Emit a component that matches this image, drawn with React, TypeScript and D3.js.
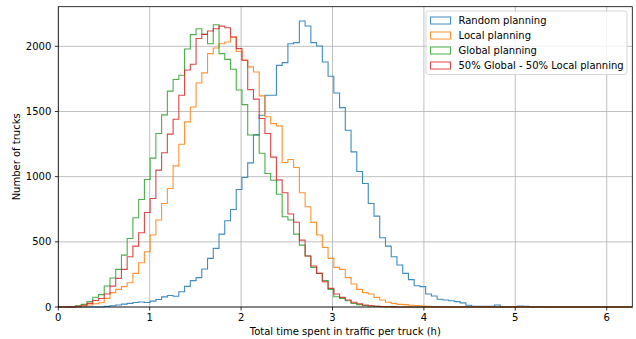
import React from 'react';
import * as d3 from 'd3';

const BIN_COUNT = 100;
const X_MAX = 6.28;
const Y_MAX = 2304;

const seriesNames = ['Random planning', 'Local planning', 'Global planning', '50% Global - 50% Local planning'];
const seriesColors = ['#1f77b4', '#ff7f0e', '#2ca02c', '#d62728'];

const randomPlanning = [0, 0, 0, 0, 0, 0, 0, 0, 5, 10, 15, 22, 28, 35, 38, 35, 45, 58, 78, 88, 82, 117, 158, 202, 225, 291, 373, 450, 559, 662, 748, 902, 994, 1106, 1318, 1471, 1625, 1625, 1854, 1875, 2020, 2028, 2194, 2156, 2028, 2003, 1880, 1770, 1642, 1530, 1356, 1190, 1040, 948, 794, 697, 531, 467, 386, 322, 258, 210, 163, 156, 100, 84, 59, 54, 48, 41, 32, 14, 6, 5, 5, 6, 15, 3, 2, 2, 8, 5, 1, 2, 2];
const localPlanning = [0, 0, 0, 2, 8, 15, 25, 33, 66, 110, 135, 156, 186, 258, 340, 424, 552, 667, 794, 909, 1083, 1249, 1420, 1535, 1719, 1796, 1944, 1987, 2020, 2033, 2072, 1960, 1893, 1842, 1803, 1620, 1460, 1407, 1390, 1109, 1132, 1070, 876, 769, 649, 552, 457, 373, 304, 289, 225, 176, 135, 110, 100, 74, 54, 36, 28, 20, 18, 14, 12, 8, 5, 3, 2];
const globalPlanning = [0, 0, 2, 10, 20, 41, 75, 95, 161, 222, 289, 398, 526, 685, 825, 978, 1142, 1331, 1474, 1656, 1745, 1778, 1980, 2090, 2135, 2092, 2020, 2166, 1944, 1900, 1824, 1665, 1553, 1320, 1323, 1180, 1024, 973, 865, 692, 667, 559, 475, 391, 304, 258, 202, 135, 79, 66, 48, 28, 18, 12, 8, 5, 3, 2, 1];
const mixedPlanning = [0, 0, 1, 5, 13, 28, 50, 65, 100, 160, 220, 289, 386, 467, 570, 725, 833, 1050, 1183, 1326, 1441, 1625, 1818, 1862, 2060, 2092, 2118, 2135, 2155, 2143, 2072, 1982, 1893, 1668, 1595, 1446, 1331, 1150, 975, 876, 713, 650, 513, 391, 315, 258, 194, 143, 100, 74, 54, 36, 25, 15, 10, 6, 4, 2, 1];

const xTicks = [0, 1, 2, 3, 4, 5, 6];
const yTicks = [0, 500, 1000, 1500, 2000];

const W = 636;
const H = 339;
const M = { left: 58.3, right: 632.3, top: 6.7, bottom: 307 };
const FONT = 'DejaVu Sans, sans-serif';

function padBins(arr: number[]): number[] {
  const out = arr.slice();
  while (out.length < BIN_COUNT) out.push(0);
  return out;
}

export default function App() {
  const x = d3.scaleLinear().domain([0, X_MAX]).range([M.left, M.right]);
  const y = d3.scaleLinear().domain([0, Y_MAX]).range([M.bottom, M.top]);
  const binW = X_MAX / BIN_COUNT;
  const allSeries = [randomPlanning, localPlanning, globalPlanning, mixedPlanning].map(padBins);

  const line = d3.line<[number, number]>().x(d => x(d[0])).y(d => y(d[1]));
  const stepPath = (counts: number[]) => {
    const pts: [number, number][] = [[0, 0]];
    counts.forEach((c, i) => {
      pts.push([i * binW, c]);
      pts.push([(i + 1) * binW, c]);
    });
    pts.push([BIN_COUNT * binW, 0]);
    return line(pts) || '';
  };

  const legendX = 426;
  const legendY = 11;
  const legendW = 201;
  const legendH = 63.5;

  return (
    <svg width={W} height={H} style={{ position: 'absolute', left: 0, top: 0, background: '#fff' }} fontFamily={FONT}>
      <rect x={0} y={0} width={W} height={H} fill="#fff" />
      {/* grid */}
      <g stroke="#b0b0b0" strokeWidth={0.8}>
        {xTicks.map(t => (
          <line key={'gx' + t} x1={x(t)} x2={x(t)} y1={M.top} y2={M.bottom} />
        ))}
        {yTicks.map(t => (
          <line key={'gy' + t} x1={M.left} x2={M.right} y1={y(t)} y2={y(t)} />
        ))}
      </g>
      {/* series */}
      <g fill="none" strokeWidth={1.1} strokeOpacity={0.85}>
        {allSeries.map((s, i) => (
          <path key={i} d={stepPath(s)} stroke={seriesColors[i]} strokeLinejoin="miter" />
        ))}
      </g>
      {/* frame */}
      <rect x={M.left} y={M.top} width={M.right - M.left} height={M.bottom - M.top} fill="none" stroke="#000" strokeWidth={0.8} />
      {/* x ticks */}
      <g fontSize={10} fill="#000">
        {xTicks.map(t => (
          <g key={'xt' + t}>
            <line x1={x(t)} x2={x(t)} y1={M.bottom} y2={M.bottom + 3.5} stroke="#000" strokeWidth={0.8} />
            <text x={x(t)} y={M.bottom + 7} textAnchor="middle" dominantBaseline="hanging">{t}</text>
          </g>
        ))}
        {yTicks.map(t => (
          <g key={'yt' + t}>
            <line x1={M.left - 3.5} x2={M.left} y1={y(t)} y2={y(t)} stroke="#000" strokeWidth={0.8} />
            <text x={M.left - 7} y={y(t)} textAnchor="end" dominantBaseline="central">{t}</text>
          </g>
        ))}
        <text x={(M.left + M.right) / 2} y={331} textAnchor="middle" dominantBaseline="central">
          Total time spent in traffic per truck (h)
        </text>
        <text transform={`translate(16, ${(M.top + M.bottom) / 2}) rotate(-90)`} textAnchor="middle" dominantBaseline="central">
          Number of trucks
        </text>
      </g>
      {/* legend */}
      <g>
        <rect x={legendX} y={legendY} width={legendW} height={legendH} rx={2.5} fill="#fff" fillOpacity={0.8} stroke="#cccccc" strokeWidth={0.8} />
        {seriesNames.map((name, i) => {
          const cy = 20 + i * 15;
          return (
            <g key={name}>
              <rect x={430.5} y={cy - 3} width={20} height={7} fill="none" stroke={seriesColors[i]} strokeWidth={1} strokeOpacity={0.85} />
              <text x={458.5} y={cy} fontSize={10} dominantBaseline="central" fill="#000">{name}</text>
            </g>
          );
        })}
      </g>
    </svg>
  );
}
